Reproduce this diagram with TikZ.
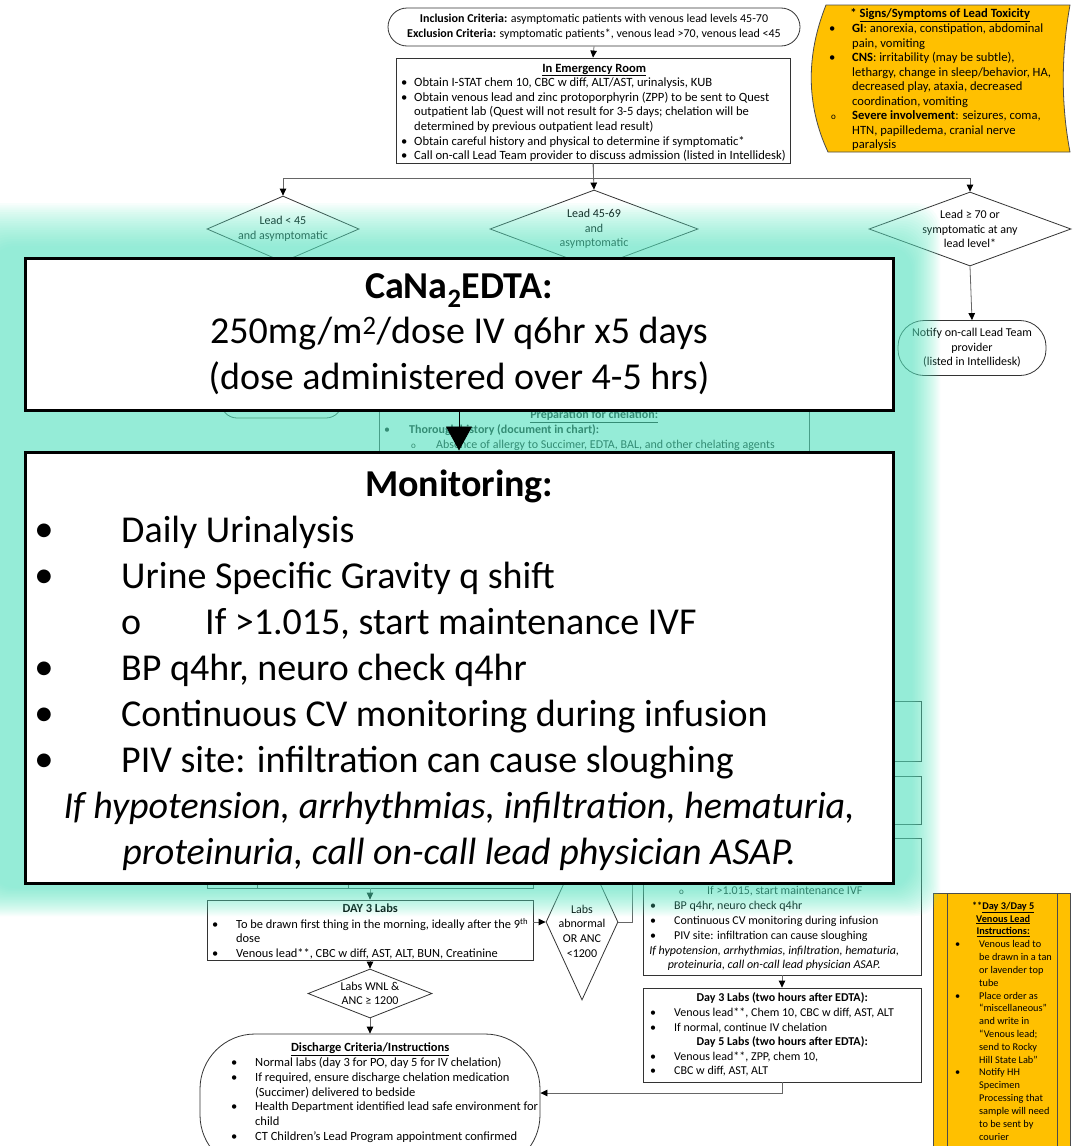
\documentclass[tikz,border=0pt]{standalone}
\usepackage{fontspec}
\setmainfont{Carlito}
\newfontfamily\symfont{DejaVu Sans}
\usetikzlibrary{arrows.meta,shapes.geometric}

\definecolor{glowc}{RGB}{94,236,199}
\definecolor{leadyellow}{RGB}{255,192,0}

% list helpers: bullet / indent / open-circle sub-bullet
\newcommand{\mybul}[1]{\makebox[#1pt][l]{\textbullet}}
\newcommand{\myind}[1]{\hspace*{#1pt}}
\newcommand{\mycirc}[2]{\hspace*{#1pt}\makebox[#2pt][l]{\small o}}
\newcommand{\bigbul}{\makebox[85pt][l]{\raisebox{7.5pt}{\symfont\fontsize{18}{18}\selectfont ●}}}

\tikzset{
  conn/.style={draw=black!60, line width=0.8pt},
  arr/.style={conn, -{Triangle[width=6.5pt,length=7pt,color=black]}},
  box/.style={rectangle, draw=black!80, line width=0.8pt, fill=white, inner sep=0pt},
  term/.style={box, rounded corners=#1},
  dia/.style={diamond, draw=black!80, line width=0.8pt, fill=white, inner sep=0pt},
  txt/.style={inner sep=0pt, align=left, font=\fontsize{12}{14.6}\selectfont},
  ctxt/.style={inner sep=0pt, align=center, font=\fontsize{12}{14.6}\selectfont},
  bigbox/.style={rectangle, draw=black, line width=3pt, fill=white, inner sep=0pt},
  yellowbox/.style={draw=black!70, line width=0.8pt, fill=leadyellow},
}

\begin{document}
\begin{tikzpicture}[x=1pt, y=-1pt]
\useasboundingbox (0,0) rectangle (1073,1146);
\clip (0,0) rectangle (1073,1146);
\fill[white] (0,0) rectangle (1073,1146);

% ---------- criteria and emergency room ----------
\node[term=19pt, minimum width=412pt, minimum height=38pt, ctxt] (crit) at (594,27)
  {\textbf{Inclusion Criteria:} asymptomatic patients with venous lead levels 45-70\\
   \textbf{Exclusion Criteria:} symptomatic patients*, venous lead >70, venous lead <45};

\node[box, minimum width=394pt, minimum height=105pt] (er) at (593,110.5) {};
\node[txt, font=\fontsize{12.6}{14.6}\selectfont, anchor=north west] (ertext) at (401,61.6) {\strut\makebox[386pt][c]{\textbf{\underline{In Emergency Room}}}\\
\mybul{13}Obtain I-STAT chem 10, CBC w diff, ALT/AST, urinalysis, KUB\\
\mybul{13}Obtain venous lead and zinc protoporphyrin (ZPP) to be sent to Quest\\
\myind{13}outpatient lab (Quest will not result for 3-5 days; chelation will be\\
\myind{13}determined by previous outpatient lead result)\\
\mybul{13}Obtain careful history and physical to determine if symptomatic*\\
\mybul{13}Call on-call Lead Team provider to discuss admission (listed in Intellidesk)};

\draw[arr] (crit.south) -- (er.north);

% ---------- signs / symptoms (stored-data shape) ----------
\path[yellowbox] (826,5) -- (1070,5) .. controls (1061,55) and (1061,105) .. (1070,152)
  -- (828,152) .. controls (806,105) and (806,55) .. (826,5) -- cycle;
\node[txt, font=\fontsize{12.6}{14.55}\selectfont, anchor=north west] (signs) at (829,7.6) {\strut\makebox[222pt][c]{\textbf{* \underline{Signs/Symptoms of Lead Toxicity}}}\\
\mybul{23}\textbf{GI}: anorexia, constipation, abdominal\\
\myind{23}pain, vomiting\\
\mybul{23}\textbf{CNS}: irritability (may be subtle),\\
\myind{23}lethargy, change in sleep/behavior, HA,\\
\myind{23}decreased play, ataxia, decreased\\
\myind{23}coordination, vomiting\\
\mycirc{2}{21}\textbf{Severe involvement}: seizures, coma,\\
\myind{23}HTN, papilledema, cranial nerve\\
\myind{23}paralysis};

% ---------- decision diamonds ----------
\node[dia, minimum width=152pt, minimum height=66pt] (d1) at (283,229) {};
\node[dia, minimum width=208pt, minimum height=78pt] (d2) at (594,229) {};
\node[dia, minimum width=202pt, minimum height=74pt] (d3) at (970,229) {};
\node[ctxt] (d1text) at (283,229) {Lead < 45\\and asymptomatic};
\node[ctxt] (d2text) at (594,229) {Lead 45-69\\and\\asymptomatic};
\node[ctxt] (d3text) at (970,229) {Lead ≥ 70 or\\symptomatic at any\\lead level*};

\draw[arr] (er.south) -- (d2.north);
\draw[arr] (er.south) -- ++(0,15) -| (d1.north);
\draw[arr] (er.south) -- ++(0,15) -| (d3.north);

\node[term=26pt, minimum width=148pt, minimum height=55pt, ctxt] (notify) at (972,348)
  {Notify on-call Lead Team\\provider\\(listed in Intellidesk)};
\draw[arr] (d3.south) -- (notify.north);

% ---------- chelation branch ----------
\node[term=16pt, minimum width=121pt, minimum height=58pt] (po) at (281.5,389) {};
\node[box, minimum width=430pt, minimum height=198pt] (prep) at (594,501) {};
\node[txt, anchor=north west] (preptext) at (384,408.4) {\strut\makebox[420pt][c]{\textbf{\underline{Preparation for chelation:}}}\\
\mybul{25}\textbf{Thorough history (document in chart):}\\
\mycirc{27}{25}Absence of allergy to Succimer, EDTA, BAL, and other chelating agents};

% right column
\node[box, minimum width=278pt, minimum height=60pt] (boxa) at (782,731) {};
\node[box, minimum width=278pt, minimum height=48pt] (boxb) at (782,800) {};
\node[box, minimum width=278pt, minimum height=137pt] (monsm) at (782,906.5) {};
\node[txt, font=\fontsize{12}{14.8}\selectfont, anchor=north west] (monsmtext) at (650,884.4) {\strut\mycirc{29}{28}If >1.015, start maintenance IVF\\
\mybul{24}BP q4hr, neuro check q4hr\\
\mybul{24}Continuous CV monitoring during infusion\\
\mybul{24}PIV site: infiltration can cause sloughing\\
\makebox[248pt][c]{\itshape If hypotension, arrhythmias, infiltration, hematuria,}\\
\makebox[248pt][c]{\itshape proteinuria, call on-call lead physician ASAP.}};

\node[box, minimum width=278pt, minimum height=94pt] (labs35) at (782,1035) {};
\node[txt, anchor=north west] (labs35text) at (650,991.4) {\strut\makebox[264pt][c]{\textbf{Day 3 Labs (two hours after EDTA):}}\\
\mybul{24}Venous lead**, Chem 10, CBC w diff, AST, ALT\\
\mybul{24}If normal, continue IV chelation\\
\makebox[264pt][c]{\textbf{Day 5 Labs (two hours after EDTA):}}\\
\mybul{24}Venous lead**, ZPP, chem 10,\\
\mybul{24}CBC w diff, AST, ALT};
\draw[arr] (monsm.south) -- (labs35.north);

% left column
\node[box, minimum width=326pt, minimum height=28pt] (tbl) at (370,874) {};
\draw[conn, draw=black!80] ([xshift=51pt]tbl.north west) -- ([xshift=51pt]tbl.south west);
\draw[conn, draw=black!80] ([xshift=142pt]tbl.north west) -- ([xshift=142pt]tbl.south west);

\node[box, minimum width=326pt, minimum height=60pt] (day3) at (370,930) {};
\node[txt, font=\fontsize{12.4}{14.4}\selectfont, anchor=north west] (day3text) at (212,902.6) {\strut\makebox[316pt][c]{\textbf{DAY 3 Labs}}\\
\mybul{24}To be drawn first thing in the morning, ideally after the 9\textsuperscript{th}\\
\myind{24}dose\\
\mybul{24}Venous lead**, CBC w diff, AST, ALT, BUN, Creatinine};
\draw[arr] (tbl.south) -- (day3.north);

\node[dia, minimum width=72pt, minimum height=156pt] (labsab) at (582,922) {};
\node[ctxt] (labsabtext) at (582,931) {Labs\\abnormal\\OR ANC\\<1200};
\draw[arr] (day3.east |- labsab.west) -- (labsab.west);
\draw[conn] (labsab.east) -- ++(14,0) -- ++(0,-60);

\node[dia, minimum width=124pt, minimum height=49pt] (wnl) at (370,993.5) {};
\node[ctxt] (wnltext) at (370,993.5) {Labs WNL \&\\ANC ≥ 1200};
\draw[arr] (day3.south) -- (wnl.north);

\node[term=55pt, minimum width=340pt, minimum height=136pt] (disc) at (370,1102) {};
\node[txt, font=\fontsize{12.5}{14.8}\selectfont, anchor=north west] (disctext) at (231,1041.2) {\strut\makebox[278pt][c]{\textbf{\underline{Discharge Criteria/Instructions}}}\\
\mybul{24}Normal labs (day 3 for PO, day 5 for IV chelation)\\
\mybul{24}If required, ensure discharge chelation medication\\
\myind{24}(Succimer) delivered to bedside\\
\mybul{24}Health Department identified lead safe environment for\\
\myind{24}child\\
\mybul{24}CT Children’s Lead Program appointment confirmed};
\draw[arr] (wnl.south) -- (disc.north);
\coordinate (turn) at (782,1093);
\draw[arr] (labs35.south) -- (turn) -- (turn -| disc.east);

% ---------- venous lead instructions ----------
\node[rectangle, yellowbox, inner sep=0pt, minimum width=137pt, minimum height=280pt, anchor=north west] (vlead) at (933,893) {};
\draw[draw=black!70, line width=0.8pt] ([xshift=14pt]vlead.north west) -- ([xshift=14pt]vlead.south west);
\draw[draw=black!70, line width=0.8pt] ([xshift=-13pt]vlead.north east) -- ([xshift=-13pt]vlead.south east);
\node[txt, font=\fontsize{10.3}{12.83}\selectfont, anchor=north west] (vleadtext) at (955,900) {\strut\makebox[96pt][c]{\textbf{**\underline{Day 3/Day 5}}}\\
\makebox[96pt][c]{\textbf{\underline{Venous Lead}}}\\
\makebox[96pt][c]{\textbf{\underline{Instructions:}}}\\
\mybul{24}Venous lead to\\
\myind{24}be drawn in a tan\\
\myind{24}or lavender top\\
\myind{24}tube\\
\mybul{24}Place order as\\
\myind{24}“miscellaneous”\\
\myind{24}and write in\\
\myind{24}“Venous lead;\\
\myind{24}send to Rocky\\
\myind{24}Hill State Lab”\\
\mybul{24}Notify HH\\
\myind{24}Specimen\\
\myind{24}Processing that\\
\myind{24}sample will need\\
\myind{24}to be sent by\\
\myind{24}courier};

% ---------- soft teal highlight ----------
\foreach \i in {0,...,19}{
  \fill[glowc, fill opacity=0.0472, rounded corners=25pt]
    ({-40+30*\i/19},{203+43*\i/19}) rectangle ({940-28*\i/19},{916-28*\i/19});
}

% ---------- enlarged callouts ----------
\node[bigbox, minimum width=868pt, minimum height=152pt, align=center,
      font=\fontsize{38}{45.5}\selectfont] (cana) at (459,334)
  {\textbf{CaNa\textsubscript{2}EDTA:}\\250mg/m\textsuperscript{2}/dose IV q6hr x5 days\\(dose administered over 4-5 hrs)};

\node[bigbox, minimum width=868pt, minimum height=431pt] (monit) at (459,667.5) {};
\node[txt, font=\fontsize{38}{46}\selectfont, anchor=north west] (monittext) at (36,464.2)
{\strut\makebox[846pt][c]{\textbf{Monitoring:}}\\
\bigbul Daily Urinalysis\\
\bigbul Urine Specific Gravity q shift\\
\myind{85}\makebox[84pt][l]{o}If >1.015, start maintenance IVF\\
\bigbul BP q4hr, neuro check q4hr\\
\bigbul Continuous CV monitoring during infusion\\
\bigbul PIV site: infiltration can cause sloughing\\
\makebox[846pt][c]{\itshape If hypotension, arrhythmias, infiltration, hematuria,}\\
\makebox[846pt][c]{\itshape proteinuria, call on-call lead physician ASAP.}};

\draw[draw=black, line width=0.8pt, -{Triangle[width=26pt,length=24pt]}] (cana.south) -- (monit.north);
\end{tikzpicture}
\end{document}
